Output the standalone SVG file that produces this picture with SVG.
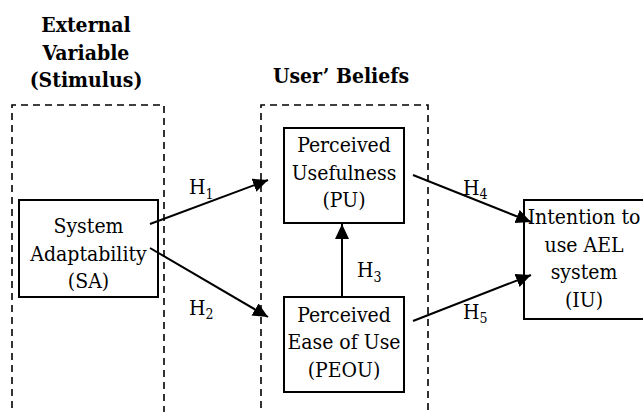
<svg xmlns="http://www.w3.org/2000/svg" width="643" height="412" viewBox="0 0 643 412">
  <style>
    text { font-family: 'DejaVu Serif Condensed', 'DejaVu Serif', serif; font-stretch: condensed; fill: #000; }
    .t { font-size: 21px; text-anchor: middle; }
    .b { font-weight: bold; }
    .lbl { font-size: 21px; }
    .sub { font-size: 14px; }
    .box { fill: #fff; stroke: #000; stroke-width: 2; }
    .dash { fill: none; stroke: #000; stroke-width: 1.6; stroke-dasharray: 7 5; }
    .conn { stroke: #000; stroke-width: 2; fill: none; marker-end: url(#arrow); }
  </style>
  <defs>
    <marker id="arrow" markerUnits="userSpaceOnUse" markerWidth="16" markerHeight="15" refX="15" refY="7" orient="auto">
      <path d="M0,0 L15,7 L0,14 z" fill="#000"/>
    </marker>
  </defs>
  <rect width="643" height="412" fill="#fff"/>

  <g id="group-external">
    <path class="dash" d="M12,420 L12,105 L164,105 L164,420"/>
    <text class="t b" x="86" y="32">External</text>
    <text class="t b" x="86" y="60">Variable</text>
    <text class="t b" x="86" y="87">(Stimulus)</text>
  </g>

  <g id="group-beliefs">
    <path class="dash" d="M261,420 L261,105 L428,105 L428,420"/>
    <text class="t b" x="341" y="83">User’ Beliefs</text>
  </g>

  <g id="node-sa">
    <rect class="box" x="19" y="200" width="139" height="97"/>
    <text class="t" x="88.5" y="233">System</text>
    <text class="t" x="88.5" y="261">Adaptability</text>
    <text class="t" x="88.5" y="288">(SA)</text>
  </g>

  <g id="node-pu">
    <rect class="box" x="284" y="128" width="120" height="95"/>
    <text class="t" x="344" y="152">Perceived</text>
    <text class="t" x="344" y="180">Usefulness</text>
    <text class="t" x="344" y="207">(PU)</text>
  </g>

  <g id="node-peou">
    <rect class="box" x="284" y="297" width="120" height="95"/>
    <text class="t" x="344" y="322">Perceived</text>
    <text class="t" x="344" y="349">Ease of Use</text>
    <text class="t" x="344" y="377">(PEOU)</text>
  </g>

  <g id="node-iu">
    <rect class="box" x="524" y="200" width="125" height="119" style="fill:none"/>
    <text class="t" x="584" y="224">Intention to</text>
    <text class="t" x="584" y="252">use AEL</text>
    <text class="t" x="584" y="279">system</text>
    <text class="t" x="584" y="307">(IU)</text>
  </g>

  <g id="connectors">
    <line class="conn" x1="150" y1="224" x2="268" y2="180"/>
    <line class="conn" x1="150" y1="248" x2="268" y2="317"/>
    <line class="conn" x1="342" y1="297" x2="342" y2="224"/>
    <line class="conn" x1="413" y1="175" x2="531" y2="222"/>
    <line class="conn" x1="413" y1="321" x2="531" y2="275"/>
    <text class="lbl" x="189" y="194">H<tspan class="sub" dy="5">1</tspan></text>
    <text class="lbl" x="189" y="315">H<tspan class="sub" dy="4">2</tspan></text>
    <text class="lbl" x="357" y="277">H<tspan class="sub" dy="5">3</tspan></text>
    <text class="lbl" x="463" y="195">H<tspan class="sub" dy="4">4</tspan></text>
    <text class="lbl" x="463" y="319">H<tspan class="sub" dy="4">5</tspan></text>
  </g>
</svg>
